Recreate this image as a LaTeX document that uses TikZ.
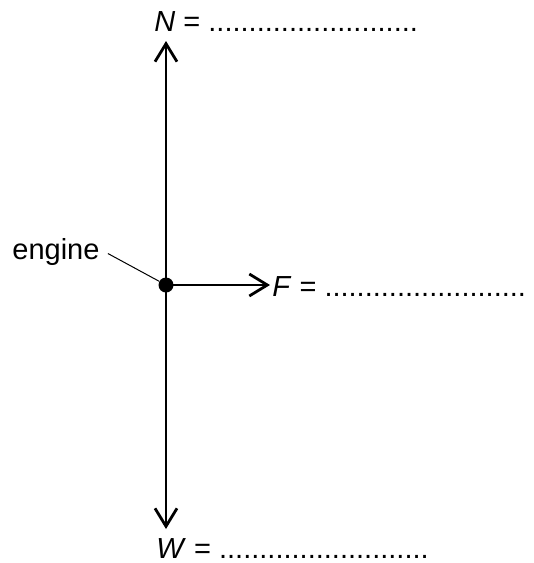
\documentclass[tikz,border=0pt]{standalone}
\usepackage{fontspec}
\setmainfont{Liberation Sans}
\usetikzlibrary{arrows.meta}

\begin{document}
\begin{tikzpicture}[x=.5pt,y=-.5pt,
  force/.style={line width=1.4pt, -{Straight Barb[length=9pt,width=11pt,line width=1.4pt]}},
  lbl/.style={anchor=base west, inner sep=0pt, font=\fontsize{14.5}{16}\selectfont}]
  \useasboundingbox (0,0) rectangle (534,563);
  \node at (166,285) [circle, fill, inner sep=0pt, minimum size=7.5pt] (eng) {};
  \coordinate (nTip) at (166,41);
  \coordinate (wTip) at (166,529);
  \coordinate (fTip) at (270,285);
  \node at (154,31) [lbl] (nLbl) {\textit{N} = ..........................};
  \node at (156,558) [lbl] (wLbl) {\textit{W} = ..........................};
  \node at (272,296) [lbl] (fLbl) {\textit{F} = .........................};
  \node at (12,259) [lbl] (engLbl) {engine};
  \draw [force] (eng.center) -- (nTip);
  \draw [force] (eng.center) -- (wTip);
  \draw [force] (eng.center) -- (fTip);
  \draw [line width=.5pt] (engLbl.east) ++(4pt,-1pt) -- (eng);
\end{tikzpicture}
\end{document}
